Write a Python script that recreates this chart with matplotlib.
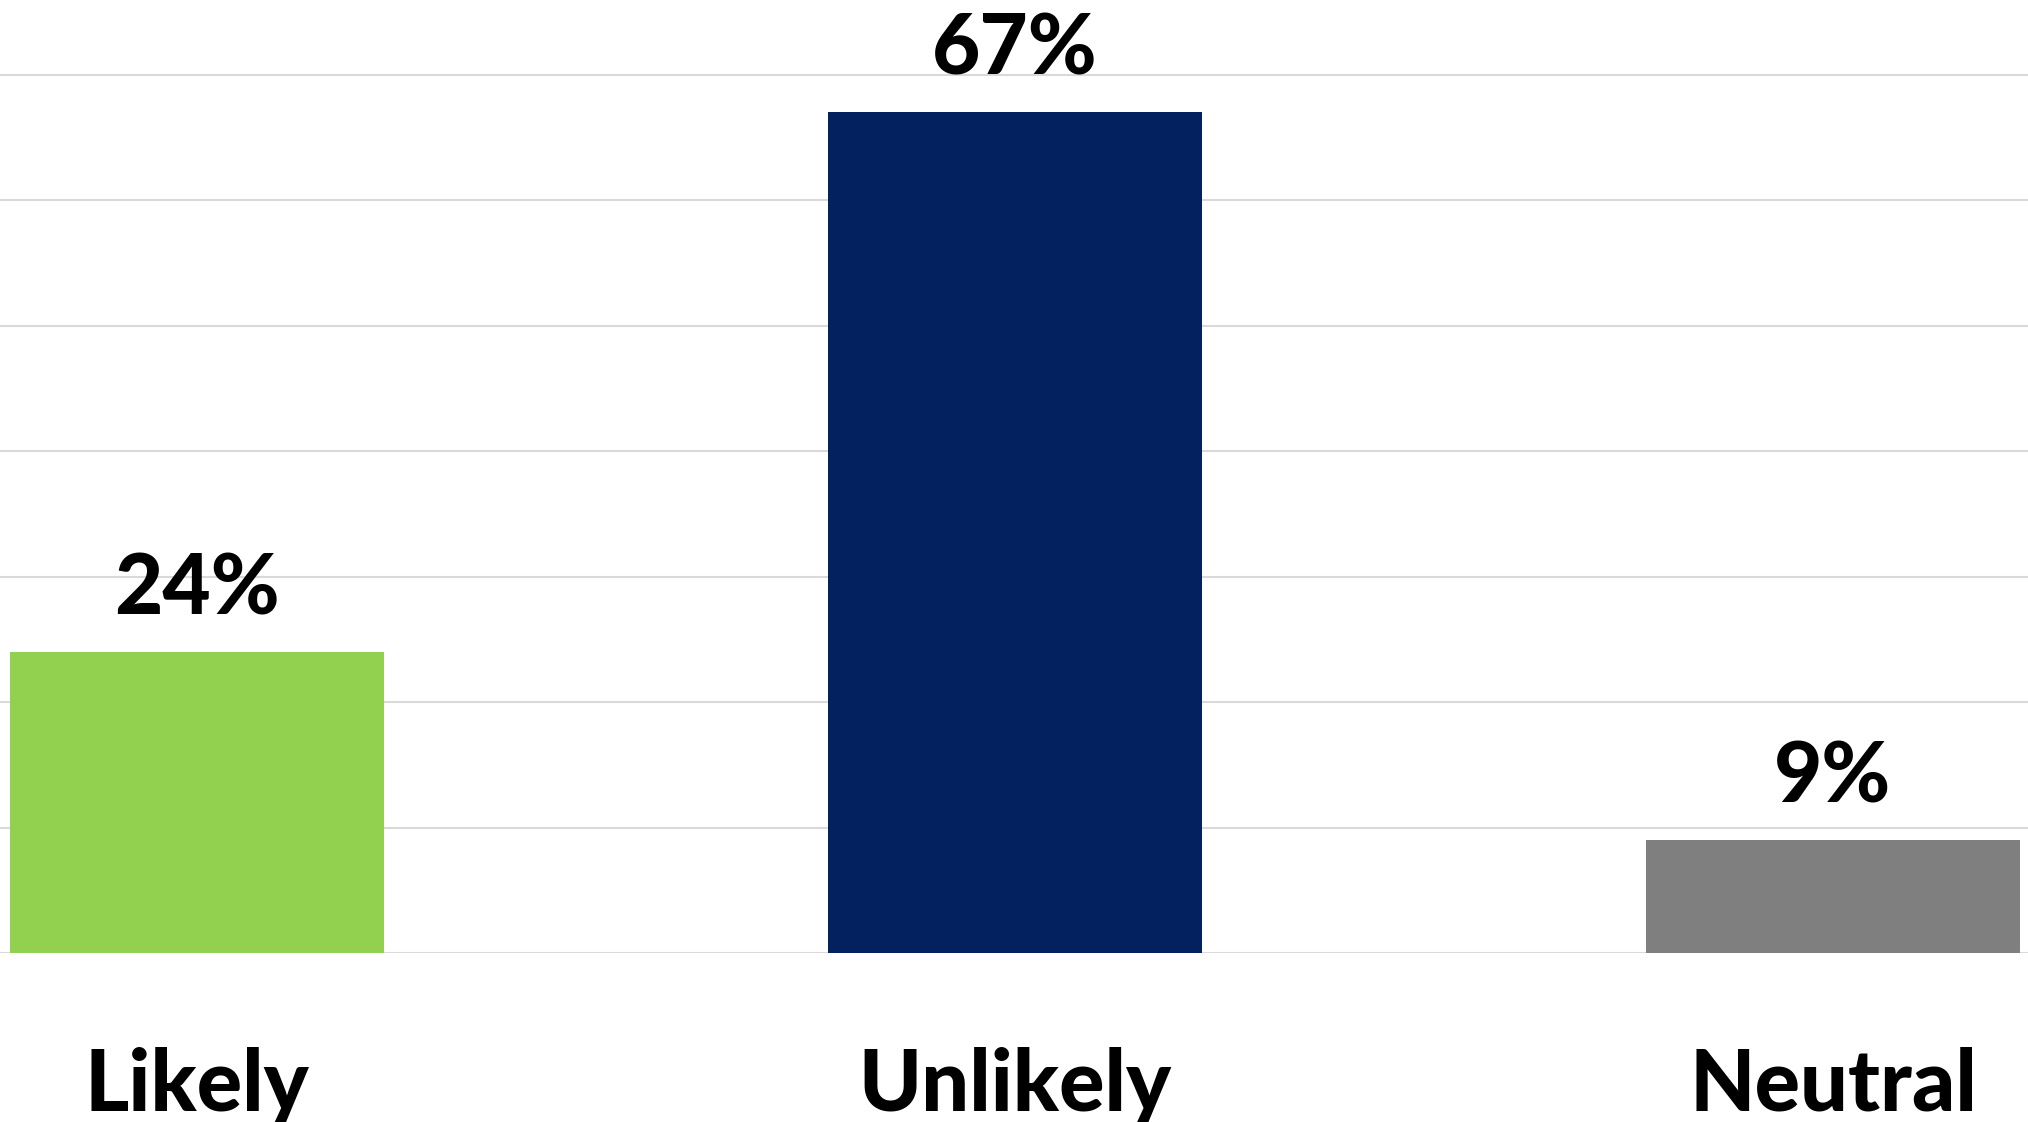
import matplotlib
matplotlib.use("Agg")
import matplotlib.pyplot as plt

categories = ["Likely", "Unlikely", "Neutral"]
values = [24, 67, 9]
colors = ["#92D050", "#03205F", "#7F7F7F"]
yticks = [0, 10, 20, 30, 40, 50, 60, 70]

plt.rcParams['font.family'] = ['Lato', 'DejaVu Sans']

fig = plt.figure(figsize=(20.28, 11.22), dpi=100)
ax = fig.add_axes([0, 0.1506, 1, 0.8494])

x = list(range(len(categories)))
bars = ax.bar(x, values, width=0.457, color=colors, zorder=3)

ax.set_xlim(-0.2408, 2.2384)
ax.set_ylim(0, 75.94)
ax.set_yticks(yticks)
ax.yaxis.grid(True, color="#d9d9d9", linewidth=1.5, zorder=0)
ax.set_axisbelow(True)
ax.tick_params(axis='y', left=False, labelleft=False)
ax.tick_params(axis='x', bottom=False, pad=64)
ax.set_xticks(x)
ax.set_xticklabels(categories, fontsize=61, fontweight=900)
for s in ax.spines.values():
    s.set_visible(False)

for xi, v in zip(x, values):
    ax.annotate(f"{v}%", xy=(xi, v), xytext=(0, 27), textcoords='offset points',
                ha='center', va='baseline', fontsize=60, fontweight=900, color='black')

fig.savefig("out.png", dpi=100)
